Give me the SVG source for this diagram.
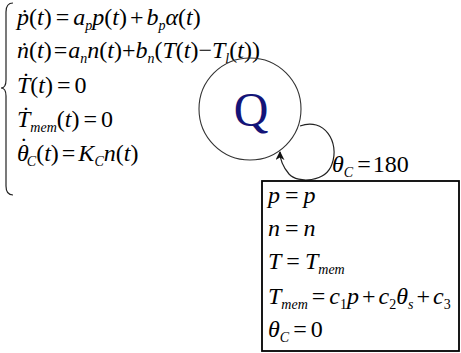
<svg xmlns="http://www.w3.org/2000/svg" width="461" height="353" viewBox="0 0 461 353">
<defs>
<style>
.m{font-family:"Liberation Serif","Times New Roman","DejaVu Serif",serif;font-size:24px;fill:#000}
.i{font-style:italic}
.s{font-size:14px}
.ln{fill:none;stroke:#222;stroke-width:1.2}
</style>
<marker id="ah" viewBox="0 0 10 10" refX="9" refY="5" markerWidth="9" markerHeight="9" orient="auto" markerUnits="userSpaceOnUse"><path d="M0,0 L10,5 L0,10 L3,5 Z" fill="#111"/></marker>
</defs>
<rect width="461" height="353" fill="#fff"/>
<g id="equations">
<path class="ln" d="M13,3 Q6,3 6,12 L6,80 Q6,88 1,88 Q6,88 6,96 L6,186 Q6,195 13,195" stroke-width="1.4"/>
<text class="m" x="17" y="25"><tspan class="i">ṗ</tspan>(<tspan class="i">t</tspan>)<tspan dx="4">=</tspan><tspan dx="4" class="i">a</tspan><tspan class="i s" dy="5">p</tspan><tspan dy="-5" class="i">p</tspan>(<tspan class="i">t</tspan>)<tspan dx="3">+</tspan><tspan dx="3" class="i">b</tspan><tspan class="i s" dy="5">p</tspan><tspan dy="-5" class="i">α</tspan>(<tspan class="i">t</tspan>)</text>
<text class="m" x="17" y="58" font-size="21.5"><tspan class="i">ṅ</tspan>(<tspan class="i">t</tspan>)<tspan dx="2">=</tspan><tspan dx="1" class="i">a</tspan><tspan class="i s" dy="5">n</tspan><tspan dy="-5" class="i">n</tspan>(<tspan class="i">t</tspan>)+<tspan class="i">b</tspan><tspan class="i s" dy="5">n</tspan><tspan dy="-5">(</tspan><tspan class="i">T</tspan>(<tspan class="i">t</tspan>)−<tspan class="i">T</tspan><tspan class="i s" dy="5">l</tspan><tspan dy="-5">(</tspan><tspan class="i">t</tspan>))</text>
<text class="m" x="17" y="93"><tspan class="i">Ṫ</tspan>(<tspan class="i">t</tspan>)<tspan dx="4">=</tspan><tspan dx="4">0</tspan></text>
<text class="m" x="17" y="127"><tspan class="i">Ṫ</tspan><tspan class="i s" dy="5">mem</tspan><tspan dy="-5">(</tspan><tspan class="i">t</tspan>)<tspan dx="4">=</tspan><tspan dx="4">0</tspan></text>
<text class="m" x="17" y="161"><tspan class="i">θ</tspan><tspan dx="-9" dy="-7">˙</tspan><tspan class="i s" dx="-1" dy="12">C</tspan><tspan dy="-5">(</tspan><tspan class="i">t</tspan>)<tspan dx="3">=</tspan><tspan dx="3" class="i">K</tspan><tspan class="i s" dy="5">C</tspan><tspan dy="-5" class="i">n</tspan>(<tspan class="i">t</tspan>)</text>
</g>
<g id="node-Q">
<circle cx="250" cy="109" r="51" fill="none" stroke="#333" stroke-width="1.1"/>
<text x="251" y="126" text-anchor="middle" style="font-family:'Liberation Serif','Times New Roman',serif;font-size:48px;fill:#141478">Q</text>
</g>
<g id="connectors">
<path class="ln" d="M300,126 C324,117 340,142 332,164 C326,182 298,184 289,174 C283,167 280,160 280,152" marker-end="url(#ah)"/>
<text class="m" x="332" y="172"><tspan class="i">θ</tspan><tspan class="i s" dy="5">C</tspan><tspan dy="-5" dx="4">=</tspan><tspan dx="2">180</tspan></text>
</g>
<g id="box">
<rect x="262" y="181" width="197" height="170" fill="#fff" stroke="#000" stroke-width="1.8"/>
<text class="m" x="268" y="203"><tspan class="i">p</tspan><tspan dx="5">=</tspan><tspan dx="5" class="i">p</tspan></text>
<text class="m" x="268" y="236"><tspan class="i">n</tspan><tspan dx="5">=</tspan><tspan dx="5" class="i">n</tspan></text>
<text class="m" x="268" y="269"><tspan class="i">T</tspan><tspan dx="5">=</tspan><tspan dx="5" class="i">T</tspan><tspan class="i s" dy="5">mem</tspan></text>
<text class="m" x="268" y="304"><tspan class="i">T</tspan><tspan class="i s" dy="5">mem</tspan><tspan dy="-5" dx="4">=</tspan><tspan dx="4" class="i">c</tspan><tspan class="s" dy="5">1</tspan><tspan dy="-5" class="i">p</tspan><tspan dx="3">+</tspan><tspan dx="3" class="i">c</tspan><tspan class="s" dy="5">2</tspan><tspan dy="-5" class="i">θ</tspan><tspan class="i s" dy="5">s</tspan><tspan dy="-5" dx="3">+</tspan><tspan dx="3" class="i">c</tspan><tspan class="s" dy="5">3</tspan></text>
<text class="m" x="268" y="337"><tspan class="i">θ</tspan><tspan class="i s" dy="5">C</tspan><tspan dy="-5" dx="4">=</tspan><tspan dx="4">0</tspan></text>
</g>
</svg>
